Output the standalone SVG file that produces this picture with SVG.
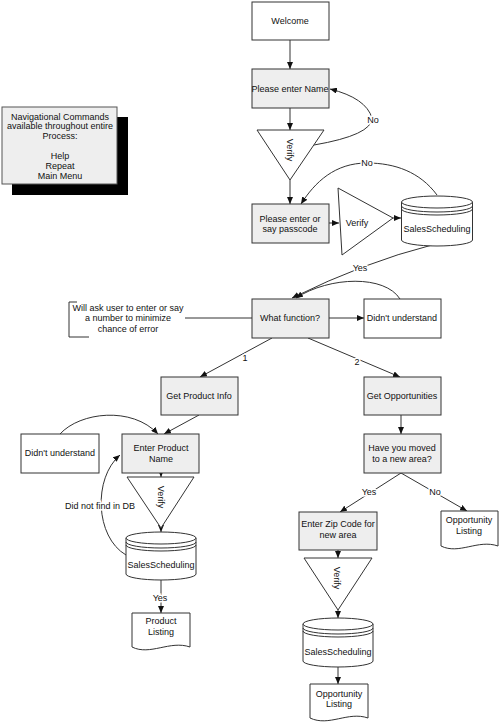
<svg xmlns="http://www.w3.org/2000/svg" width="500" height="727" viewBox="0 0 500 727">
<defs>
<marker id="ah" markerWidth="7" markerHeight="6" refX="7" refY="3" orient="auto" markerUnits="userSpaceOnUse">
<path d="M0,0 L7,3 L0,6 z" fill="#111"/>
</marker>
<style>
.t{font-family:"Liberation Sans",Arial,sans-serif;font-size:9px;fill:#111;text-anchor:middle}
.lbl{font-family:"Liberation Sans",Arial,sans-serif;font-size:9px;fill:#111;text-anchor:middle;stroke:#fff;stroke-width:3;paint-order:stroke}
.box{fill:#fff;stroke:#333;stroke-width:1}
.gbox{fill:#eeeeee;stroke:#333;stroke-width:1}
.sh{fill:#fff;stroke:#333;stroke-width:1}
.c{fill:none;stroke:#333;stroke-width:1;marker-end:url(#ah)}
.cn{fill:none;stroke:#333;stroke-width:1}
</style>
</defs>
<rect width="500" height="727" fill="#fff"/>

<g id="connectors">
<path class="c" d="M290,40 V69"/>
<path class="c" d="M290,108 V130"/>
<path class="c" d="M314,145 Q372,135 372,118 Q366,98 330,89"/>
<path class="c" d="M290,180 V204"/>
<path class="c" d="M329,223 H339"/>
<path class="c" d="M393,218 H401"/>
<path class="c" d="M437,195 C420,172 395,163 367,163 C335,163 315,182 301,204"/>
<path class="c" d="M432,245 Q365,262 292,298"/>
<path class="c" d="M400,299 C385,275 330,276 296,298"/>
<path class="c" d="M329,318 H364"/>
<path class="cn" d="M185,318 H252"/>
<path class="c" d="M272,338 L200,377"/>
<path class="c" d="M308,338 L400,377"/>
<path class="c" d="M199,415 L164,434"/>
<path class="c" d="M60,434 C80,412 132,406 158,434"/>
<path class="c" d="M161,473 V477"/>
<path class="c" d="M161,528 V532"/>
<path class="c" d="M126,555 C95,537 93,478 120,455"/>
<path class="c" d="M161,580 V613"/>
<path class="c" d="M401,415 V434"/>
<path class="c" d="M401,473 L340,512"/>
<path class="c" d="M401,473 L467,511"/>
<path class="c" d="M338,550 V558"/>
<path class="c" d="M338,610 V618"/>
<path class="c" d="M338,667 V684"/>
<text class="lbl" x="373" y="123">No</text>
<text class="lbl" x="367" y="166">No</text>
<text class="lbl" x="360" y="271">Yes</text>
<text class="lbl" x="245" y="361">1</text>
<text class="lbl" x="357" y="365">2</text>
<text class="lbl" x="100" y="509">Did not find in DB</text>
<text class="lbl" x="160" y="601">Yes</text>
<text class="lbl" x="369" y="495">Yes</text>
<text class="lbl" x="435" y="495">No</text>
</g>

<g id="nav">
<rect x="12" y="117" width="116" height="78" fill="#000"/>
<rect x="2" y="107" width="115" height="77" fill="#eeeeee" stroke="#555" stroke-width="1"/>
<text class="t" x="60" y="120">Navigational Commands</text>
<text class="t" x="60" y="129">available throughout entire</text>
<text class="t" x="60" y="139">Process:</text>
<text class="t" x="60" y="159">Help</text>
<text class="t" x="60" y="169">Repeat</text>
<text class="t" x="60" y="179">Main Menu</text>
</g>

<g id="welcome"><rect class="box" x="252" y="2" width="77" height="38"/><text class="t" x="290" y="24">Welcome</text></g>
<g id="enterName"><rect class="gbox" x="252" y="69" width="77" height="39"/><text class="t" x="290" y="92">Please enter Name</text></g>
<g id="verify1"><path class="sh" d="M257,130 H324 L290,180 Z"/><text class="t" transform="translate(290,150) rotate(90)" y="3">Verify</text></g>
<g id="passcode"><rect class="gbox" x="252" y="204" width="77" height="39"/><text class="t" x="290" y="222">Please enter or</text><text class="t" x="290" y="232">say passcode</text></g>
<g id="verify2"><path class="sh" d="M338,188 L342,255 L393,218 Z"/><text class="t" x="357" y="226">Verify</text></g>
<g id="db1">
<path class="sh" d="M401.5,202 V240 A35.5,6 0 0 0 472.5,240 V202"/>
<ellipse class="sh" cx="437" cy="202" rx="35.5" ry="6"/>
<path class="cn" d="M401.5,206 A35.5,6 0 0 0 472.5,206 M401.5,209 A35.5,6 0 0 0 472.5,209"/>
<text class="t" x="437" y="232">SalesScheduling</text>
</g>
<g id="whatFunction"><rect class="gbox" x="252" y="299" width="77" height="39"/><text class="t" x="290" y="321">What function?</text></g>
<g id="didntUnderstand1"><rect class="box" x="364" y="299" width="77" height="39"/><text class="t" x="402" y="321">Didn't understand</text></g>
<g id="note">
<path class="cn" d="M77,302 H69 V337 H89"/>
<text class="t" x="128" y="311">Will ask user to enter or say</text>
<text class="t" x="128" y="321">a number to minimize</text>
<text class="t" x="128" y="332">chance of error</text>
</g>
<g id="getProduct"><rect class="gbox" x="161" y="377" width="77" height="38"/><text class="t" x="199" y="399">Get Product Info</text></g>
<g id="getOpp"><rect class="gbox" x="364" y="377" width="77" height="38"/><text class="t" x="402" y="399">Get Opportunities</text></g>
<g id="didntUnderstand2"><rect class="box" x="21" y="434" width="78" height="39"/><text class="t" x="60" y="456">Didn't understand</text></g>
<g id="enterProduct"><rect class="gbox" x="122" y="434" width="77" height="39"/><text class="t" x="161" y="451">Enter Product</text><text class="t" x="161" y="462">Name</text></g>
<g id="verify3"><path class="sh" d="M127,477 H194 L161,528 Z"/><text class="t" transform="translate(161,497) rotate(90)" y="3">Verify</text></g>
<g id="db2">
<path class="sh" d="M126,538 V574 A35,6 0 0 0 196,574 V538"/>
<ellipse class="sh" cx="161" cy="538" rx="35" ry="6"/>
<path class="cn" d="M126,542 A35,6 0 0 0 196,542 M126,545 A35,6 0 0 0 196,545"/>
<text class="t" x="161" y="568">SalesScheduling</text>
</g>
<g id="productListing">
<path class="sh" d="M132,613 H190 V647 C170,640 150,656 132,647 Z"/>
<text class="t" x="161" y="624">Product</text><text class="t" x="161" y="635">Listing</text>
</g>
<g id="moved"><rect class="gbox" x="364" y="434" width="77" height="39"/><text class="t" x="402" y="451">Have you moved</text><text class="t" x="402" y="462">to a new area?</text></g>
<g id="zip"><rect class="gbox" x="299" y="512" width="78" height="38"/><text class="t" x="338" y="527">Enter Zip Code for</text><text class="t" x="338" y="538">new area</text></g>
<g id="oppListing1">
<path class="sh" d="M441,511 H498 V546 C478,539 459,555 441,546 Z"/>
<text class="t" x="469" y="523">Opportunity</text><text class="t" x="469" y="534">Listing</text>
</g>
<g id="verify4"><path class="sh" d="M304,558 H372 L338,610 Z"/><text class="t" transform="translate(337,578) rotate(90)" y="3">Verify</text></g>
<g id="db3">
<path class="sh" d="M303,624 V661 A35,6 0 0 0 373,661 V624"/>
<ellipse class="sh" cx="338" cy="624" rx="35" ry="6"/>
<path class="cn" d="M303,628 A35,6 0 0 0 373,628 M303,631 A35,6 0 0 0 373,631"/>
<text class="t" x="338" y="655">SalesScheduling</text>
</g>
<g id="oppListing2">
<path class="sh" d="M310,684 H368 V718 C348,711 329,727 310,718 Z"/>
<text class="t" x="339" y="697">Opportunity</text><text class="t" x="339" y="707">Listing</text>
</g>
</svg>
